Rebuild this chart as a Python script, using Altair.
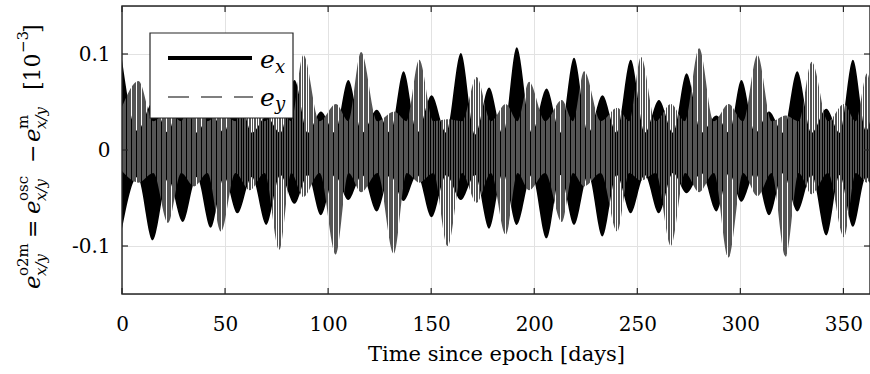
import altair as alt
import pandas as pd

# ---- data (envelopes of the dense oscillations) ----
# e_x : times of lobe nodes and in-between points, upper / lower envelope
ex_t = [0.0, 7.5, 15.0, 22.3, 29.5, 36.3, 43.0, 49.5, 56.0, 63.0, 70.0, 76.8,
        83.7, 90.1, 96.5, 103.2, 109.8, 116.5, 123.6, 130.1, 136.6, 143.2,
        150.2, 157.3, 164.4, 171.3, 178.1, 184.8, 191.5, 198.8, 206.0, 212.7,
        219.3, 226.2, 233.1, 240.0, 246.8, 253.6, 260.5, 267.3, 273.9, 281.1,
        288.4, 294.5, 300.5, 307.2, 313.9, 320.8, 327.6, 334.6, 341.7, 348.2,
        354.6, 361.0, 362.9]
ex_hi = [0.094, 0.020, 0.050, 0.018, 0.070, 0.018, 0.040, 0.018, 0.065, 0.018,
         0.035, 0.018, 0.073, 0.018, 0.040, 0.018, 0.073, 0.018, 0.042, 0.018,
         0.082, 0.018, 0.057, 0.018, 0.101, 0.016, 0.065, 0.016, 0.107, 0.018,
         0.064, 0.018, 0.096, 0.018, 0.057, 0.018, 0.094, 0.018, 0.052, 0.018,
         0.080, 0.018, 0.036, 0.018, 0.073, 0.018, 0.040, 0.018, 0.082, 0.018,
         0.043, 0.018, 0.094, 0.020, 0.030]
ex_lo = [-0.082, -0.028, -0.094, -0.030, -0.075, -0.028, -0.081, -0.028, -0.066,
         -0.028, -0.078, -0.026, -0.056, -0.026, -0.068, -0.026, -0.052, -0.026,
         -0.064, -0.026, -0.053, -0.026, -0.070, -0.026, -0.052, -0.026, -0.082,
         -0.024, -0.078, -0.026, -0.092, -0.026, -0.078, -0.026, -0.090, -0.026,
         -0.066, -0.026, -0.066, -0.024, -0.045, -0.024, -0.064, -0.024, -0.054,
         -0.024, -0.068, -0.024, -0.064, -0.026, -0.089, -0.026, -0.080, -0.028,
         -0.035]

# e_y
ey_t = [0.0, 8.0, 15.2, 22.3, 28.7, 35.0, 41.5, 48.0, 55.0, 62.0, 69.2, 76.3,
        82.1, 88.0, 95.9, 103.8, 109.9, 116.0, 124.0, 132.0, 138.1, 144.2,
        151.1, 158.0, 165.0, 172.0, 179.0, 186.2, 191.9, 197.5, 205.3, 213.4,
        218.8, 224.2, 232.3, 240.3, 246.0, 251.8, 259.0, 266.3, 273.2, 280.0,
        287.2, 294.3, 301.3, 308.3, 315.2, 322.0, 328.3, 334.6, 342.5, 350.3,
        356.0, 361.5, 362.9]
ey_hi = [0.045, 0.072, 0.030, 0.040, 0.030, 0.075, 0.030, 0.040, 0.030, 0.085,
         0.030, 0.045, 0.030, 0.099, 0.030, 0.048, 0.030, 0.102, 0.030, 0.040,
         0.030, 0.094, 0.030, 0.032, 0.030, 0.076, 0.030, 0.048, 0.030, 0.071,
         0.030, 0.052, 0.030, 0.082, 0.030, 0.044, 0.030, 0.097, 0.030, 0.048,
         0.030, 0.106, 0.030, 0.048, 0.030, 0.099, 0.030, 0.036, 0.030, 0.092,
         0.030, 0.048, 0.030, 0.080, 0.070]
ey_lo = [-0.022, -0.034, -0.024, -0.076, -0.024, -0.038, -0.024, -0.085, -0.024,
         -0.042, -0.024, -0.104, -0.024, -0.049, -0.024, -0.109, -0.024, -0.044,
         -0.024, -0.108, -0.024, -0.034, -0.024, -0.100, -0.024, -0.055, -0.024,
         -0.088, -0.024, -0.042, -0.024, -0.075, -0.024, -0.038, -0.024, -0.085,
         -0.024, -0.032, -0.024, -0.100, -0.024, -0.044, -0.024, -0.112, -0.024,
         -0.048, -0.024, -0.111, -0.024, -0.046, -0.024, -0.091, -0.024, -0.034,
         -0.030]

x_ticks = [0, 50, 100, 150, 200, 250, 300, 350]
y_ticks = [-0.1, 0, 0.1]

# ---- layout ----
W, H = 748, 288
LEFT, TOP = 122, 6
XMAX = 362.9
FONT = "DejaVu Serif"
FRAME = "#262626"
GRAY = "#555555"
XTITLE = "Time since epoch [days]"

xs = alt.Scale(domain=[0, XMAX], nice=False, zero=False)
ys = alt.Scale(domain=[-0.15, 0.15], nice=False, zero=False)

ex_df = pd.DataFrame({"t": ex_t, "hi": ex_hi, "lo": ex_lo})
ey_df = pd.DataFrame({"t": ey_t, "hi": ey_hi, "lo": ey_lo})
one = pd.DataFrame({"a": [0]})

x_axis = alt.Axis(values=x_ticks, grid=True, gridColor="#e2e2e2", gridWidth=1,
                  domain=False, ticks=False, tickSize=0, labelFont=FONT,
                  labelFontSize=20, labelColor="black", labelPadding=20,
                  labelFlush=False,
                  titleFont=FONT, titleFontSize=21, titleFontWeight="normal",
                  titleColor="black", titlePadding=9, format="d")
y_axis = alt.Axis(values=y_ticks, grid=True, gridColor="#e2e2e2", gridWidth=1,
                  domain=False, ticks=False, tickSize=0, labelFont=FONT,
                  labelFontSize=20, labelColor="black", labelPadding=12,
                  labelFlush=False,
                  labelExpr="datum.value == 0 ? '0' : (datum.value < 0 ? '-' + format(-datum.value, '.1f') : format(datum.value, '.1f'))")


def X(field):
    return alt.X(field, scale=xs, axis=x_axis, title=XTITLE)


def Y(field):
    return alt.Y(field, scale=ys, axis=y_axis, title=None)


black = alt.Chart(ex_df).mark_area(color="black", interpolate="monotone").encode(
    x=X("t:Q"), y=Y("hi:Q"), y2="lo:Q")

# vertical hatching to mimic the thin dashed dense line
N = 300
FR = 0.72
stops = []
for i in range(N):
    a = i / N
    b = (i + FR) / N
    c = (i + 1) / N
    stops += [alt.GradientStop(offset=a, color=GRAY),
              alt.GradientStop(offset=b, color=GRAY),
              alt.GradientStop(offset=b, color="rgba(85,85,85,0)"),
              alt.GradientStop(offset=c, color="rgba(85,85,85,0)")]
hatch = alt.Gradient(gradient="linear", stops=stops, x1=0, x2=1, y1=0, y2=0)

gray = alt.Chart(ey_df).mark_area(fill=hatch, interpolate="monotone").encode(
    x=X("t:Q"), y=Y("hi:Q"), y2="lo:Q")

# inward ticks on all four sides
xt = pd.DataFrame({"v": x_ticks})
yt = pd.DataFrame({"v": y_ticks})
tick_b = alt.Chart(xt).mark_rule(color=FRAME, strokeWidth=1.2).encode(
    x=X("v:Q"), y=alt.value(H), y2=alt.value(H - 6))
tick_t = alt.Chart(xt).mark_rule(color=FRAME, strokeWidth=1.2).encode(
    x=X("v:Q"), y=alt.value(0), y2=alt.value(6))
tick_l = alt.Chart(yt).mark_rule(color=FRAME, strokeWidth=1.2).encode(
    y=Y("v:Q"), x=alt.value(0), x2=alt.value(6))
tick_r = alt.Chart(yt).mark_rule(color=FRAME, strokeWidth=1.2).encode(
    y=Y("v:Q"), x=alt.value(W), x2=alt.value(W - 6))

# frame
frame = alt.Chart(one).mark_rect(fill=None, stroke=FRAME, strokeWidth=1.4).encode(
    x=alt.value(0), x2=alt.value(W), y=alt.value(0), y2=alt.value(H))

# legend
lx0, lx1, ly0, ly1 = 150 - LEFT, 293 - LEFT, 33 - TOP, 118 - TOP
leg_box = alt.Chart(one).mark_rect(fill="white", stroke=FRAME, strokeWidth=1.2).encode(
    x=alt.value(lx0), x2=alt.value(lx1), y=alt.value(ly0), y2=alt.value(ly1))
leg_l1 = alt.Chart(one).mark_rule(color="black", strokeWidth=4).encode(
    x=alt.value(168 - LEFT), x2=alt.value(252 - LEFT), y=alt.value(58 - TOP))
leg_l2 = alt.Chart(one).mark_rule(color=GRAY, strokeWidth=1.6, strokeDash=[21, 12]).encode(
    x=alt.value(168 - LEFT), x2=alt.value(253 - LEFT), y=alt.value(97 - TOP))


def txt(text, px, py, size, italic=False, angle=0):
    kw = dict(text=text, align="left", baseline="alphabetic", font=FONT,
              fontSize=size, fontStyle="italic" if italic else "normal",
              color="black")
    if angle:
        kw["angle"] = angle
    return alt.Chart(one).mark_text(**kw).encode(
        x=alt.value(px - LEFT), y=alt.value(py - TOP))


legend_txt = [
    txt("e", 260, 68, 25, True), txt("x", 275, 73, 18, True),
    txt("e", 260, 106, 25, True), txt("y", 275, 110, 18, True),
]

# y-axis title, rotated, built from pieces (main, superscript, subscript)
MB, SP, SB = 40, 28, 46   # baselines (page x) for main / super / sub
R = 270
ytitle = [
    txt("e", MB, 289, 23, True, R),
    txt("o2m", SP, 276, 15, False, R),
    txt("x/y", SB, 276, 15, True, R),
    txt("=", MB, 238, 22, False, R),
    txt("e", MB, 214, 23, True, R),
    txt("osc", SP, 201, 15, False, R),
    txt("x/y", SB, 201, 15, True, R),
    txt("\u2212", MB, 163, 22, False, R),
    txt("e", MB, 142, 23, True, R),
    txt("m", SP, 129, 15, False, R),
    txt("x/y", SB, 129, 15, True, R),
    txt("[10", MB, 90, 22, False, R),
    txt("\u22123", SP, 53, 15, False, R),
    txt("]", MB, 33, 22, False, R),
]

chart = alt.layer(
    black, gray, tick_b, tick_t, tick_l, tick_r, frame,
    leg_box, leg_l1, leg_l2, *legend_txt, *ytitle
).properties(
    width=W, height=H,
    autosize=alt.AutoSizeParams(type="none"),
    padding={"left": LEFT, "top": TOP, "right": 0, "bottom": 374 - TOP - H},
).configure_view(stroke=None).configure(background="white")

chart.save("out.html", embed_options={"renderer": "svg", "actions": False})
